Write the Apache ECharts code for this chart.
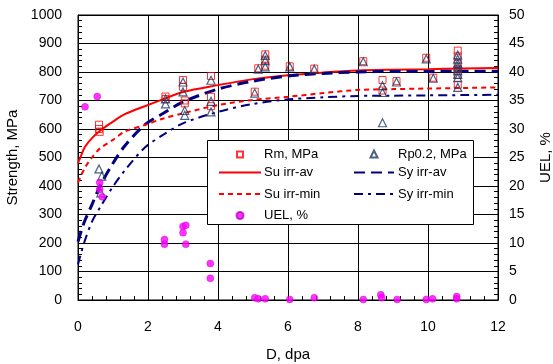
<!DOCTYPE html>
<html>
<head>
<meta charset="utf-8" />
<title>Strength vs dose</title>
<script src="https://cdn.jsdelivr.net/npm/echarts@6/dist/echarts.min.js"></script>
<style>
  html, body { margin: 0; padding: 0; background: #fff; }
  #chart { width: 553px; height: 364px; }
</style>
</head>
<body>
<div id="chart"></div>
<script>
// measured points, [dpa, value]
var rmData = [[0.6,615],[0.6,600],[0.62,590],[2.5,714],[2.5,705],[3.0,772],[3.0,748],[3.05,700],[3.05,690],
  [3.8,786],[3.8,713],[3.8,680],[5.05,731],[5.15,813],[5.35,862],[5.35,843],[5.35,822],[6.05,820],[6.75,812],
  [8.15,838],[8.7,772],[8.7,735],[9.1,768],[9.95,850],[10.15,780],[10.85,875],[10.85,855],[10.85,830],
  [10.85,810],[10.85,790],[10.85,755]];
var rpData = [[0.6,460],[0.68,435],[0.65,376],[2.5,706],[2.5,688],[3.0,765],[3.0,730],[3.05,665],[3.05,648],
  [3.8,771],[3.8,697],[3.8,660],[5.05,726],[5.15,810],[5.35,858],[5.35,840],[5.35,818],[6.05,818],[6.75,810],
  [8.15,836],[8.7,752],[8.7,728],[8.7,622],[9.1,765],[9.95,846],[10.15,778],[10.85,860],[10.85,845],
  [10.85,830],[10.85,818],[10.85,805],[10.85,792],[10.85,780],[10.85,746]];
var uelData = [[0.2,33.9],[0.55,35.7],[0.62,20.6],[0.62,19.4],[0.69,18.1],[2.47,10.6],[2.47,9.8],[3.0,12.9],
  [3.08,13.1],[3.0,11.8],[3.08,9.8],[3.78,6.4],[3.78,3.8],[5.05,0.4],[5.15,0.2],[5.35,0.2],[6.05,0.1],
  [6.75,0.4],[8.15,0.1],[8.65,0.9],[8.68,0.4],[9.12,0.1],[9.95,0.1],[10.13,0.2],[10.82,0.6],[10.82,0.2]];

// fitted curves
var dpaCurve = [0, 0.1, 0.2, 0.4, 0.63, 1, 1.34, 1.91, 2.44, 3, 4, 5, 6, 7, 8, 9, 10, 11, 12];
var suAv  = [480, 510, 538, 568, 594, 626, 652, 680, 705, 730, 754, 775, 789, 798, 805, 808, 810, 812, 814];
var suMin = [412, 440, 465, 500, 532, 562, 591, 614, 637, 655, 684, 702, 713, 726, 737, 740, 742, 744, 746];
var syAv  = [205, 245, 280, 335, 400, 480, 541, 615, 655, 695, 740, 768, 786, 795, 800, 802, 802, 803, 803];
var syMin = [125, 170, 210, 275, 325, 398, 455, 535, 580, 620, 660, 688, 704, 711, 716, 717, 718, 719, 720];

function pairs(xs, ys) {
  return xs.map(function (x, i) { return [x, ys[i]]; });
}

var FONT = "'Liberation Sans', Arial, sans-serif";
var RED = '#ff0000';
var NAVY = '#000080';

// one legend per entry so every row sits where it should
// textLeft is where the label starts, iconCx the centre of the marker
function legendItem(name, iconCx, rowCy, w, h, textLeft, isLine) {
  var left = iconCx - w / 2;
  var leg = {
    data: [name], left: left, top: rowCy - h / 2, orient: 'horizontal',
    itemWidth: w, itemHeight: h, padding: 0, z: 10,
    selectedMode: false,
    textStyle: {
      fontFamily: FONT, fontSize: 13, color: '#000',
      padding: [0, 0, 0, textLeft - (left + w + 5)]
    }
  };
  if (isLine) leg.itemStyle = { opacity: 0 };
  return leg;
}

var chart = echarts.init(document.getElementById('chart'));

var axisText = { fontFamily: FONT, fontSize: 15, color: '#000' };
var plain = function (v) { return String(v); };

chart.setOption({
  animation: false,
  grid: {
    left: 78, right: 55, top: 15, bottom: 64,
    outerBoundsMode: 'none', containLabel: false,
    show: true, borderColor: '#000', borderWidth: 1
  },
  legend: [
    legendItem('Rm, MPa', 239, 151, 6, 6, 263, false),
    legendItem('Su irr-av', 239, 171, 42, 10, 263, true),
    legendItem('Su irr-min', 239, 192.5, 42, 10, 263, true),
    legendItem('UEL, %', 239, 212.5, 7, 7, 263, false),
    legendItem('Rp0.2, MPa', 373, 151, 7, 7, 397, false),
    legendItem('Sy irr-av', 373, 171, 40, 10, 397, true),
    legendItem('Sy irr-min', 373, 192.5, 40, 10, 397, true)
  ],
  graphic: [{
    type: 'rect', z: 5,
    shape: { x: 207.5, y: 140.5, width: 266, height: 84 },
    style: { fill: '#fff', stroke: '#000', lineWidth: 1 }
  }],
  xAxis: {
    type: 'value', min: 0, max: 12, interval: 2,
    name: 'D, dpa', nameLocation: 'middle', nameGap: 47,
    nameTextStyle: axisText,
    axisLine: { lineStyle: { color: '#000', width: 1 } },
    axisTick: { inside: true, length: 5, lineStyle: { color: '#000' } },
    minorTick: { show: true, splitNumber: 5, length: 4, lineStyle: { color: '#000' } },
    splitLine: { show: true, lineStyle: { color: '#000', width: 1 } },
    axisLabel: { margin: 20, fontFamily: FONT, fontSize: 14, color: '#000', formatter: plain }
  },
  yAxis: [{
    type: 'value', min: 0, max: 1000, interval: 100,
    name: 'Strength, MPa', nameLocation: 'middle', nameGap: 53,
    nameTextStyle: axisText,
    axisLine: { show: true, lineStyle: { color: '#000', width: 1 } },
    axisTick: { show: true, inside: true, length: 5, lineStyle: { color: '#000' } },
    minorTick: { show: true, splitNumber: 5, length: 4, lineStyle: { color: '#000' } },
    splitLine: { show: true, lineStyle: { color: '#000', width: 1 } },
    axisLabel: { margin: 16, fontFamily: FONT, fontSize: 14, color: '#000', formatter: plain }
  }, {
    type: 'value', min: 0, max: 50, interval: 5, position: 'right',
    name: 'UEL, %', nameLocation: 'middle', nameGap: 40,
    nameTextStyle: axisText,
    axisLine: { show: true, lineStyle: { color: '#000', width: 1 } },
    axisTick: { show: true, inside: true, length: 5, lineStyle: { color: '#000' } },
    minorTick: { show: true, splitNumber: 5, length: 4, lineStyle: { color: '#000' } },
    splitLine: { show: false },
    axisLabel: { margin: 11, fontFamily: FONT, fontSize: 14, color: '#000', formatter: plain }
  }],
  series: [
    {
      name: 'Rm, MPa', type: 'scatter', data: rmData, symbol: 'rect', symbolSize: 7, z: 3,
      itemStyle: { color: 'rgba(255,255,255,0)', borderColor: RED, borderWidth: 1 }
    },
    {
      name: 'Rp0.2, MPa', type: 'scatter', data: rpData, symbol: 'triangle', symbolSize: 8, z: 3,
      itemStyle: { color: 'rgba(255,255,255,0)', borderColor: '#1f3864', borderWidth: 1.2 }
    },
    {
      name: 'Su irr-av', type: 'line', data: pairs(dpaCurve, suAv), smooth: 0.3,
      symbol: 'none', lineStyle: { color: RED, width: 2 }, itemStyle: { color: RED }
    },
    {
      name: 'Sy irr-av', type: 'line', data: pairs(dpaCurve, syAv), smooth: 0.3,
      symbol: 'none', lineStyle: { color: NAVY, width: 3, type: [11, 6] }, itemStyle: { color: NAVY }
    },
    {
      name: 'Su irr-min', type: 'line', data: pairs(dpaCurve, suMin), smooth: 0.3,
      symbol: 'none', lineStyle: { color: RED, width: 2, type: [5, 4] }, itemStyle: { color: RED }
    },
    {
      name: 'Sy irr-min', type: 'line', data: pairs(dpaCurve, syMin), smooth: 0.3,
      symbol: 'none', lineStyle: { color: NAVY, width: 2, type: [9, 5, 3, 5] }, itemStyle: { color: NAVY }
    },
    {
      name: 'UEL, %', type: 'scatter', yAxisIndex: 1, data: uelData, symbol: 'circle', symbolSize: 7, z: 4,
      itemStyle: { color: '#ff00ff', borderColor: '#c000c0', borderWidth: 0.5 }
    }
  ]
});
</script>
</body>
</html>
